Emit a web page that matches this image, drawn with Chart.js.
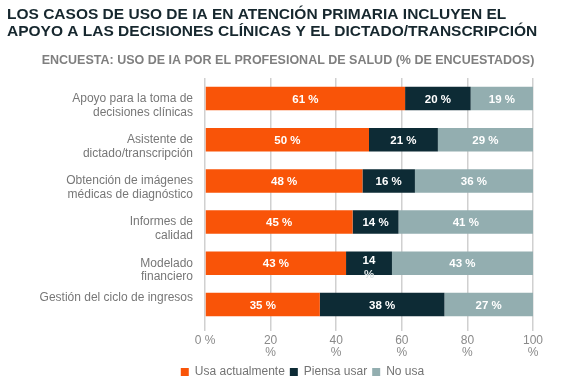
<!DOCTYPE html>
<html><head><meta charset="utf-8">
<script src="https://cdn.jsdelivr.net/npm/chart.js@4/dist/chart.umd.min.js"></script>
<style>html,body{margin:0;padding:0;background:#fff}#wrap{width:567px;height:384px}</style>
</head><body><div id="wrap"><canvas id="c" width="567" height="384"></canvas></div>
<script>
const titleLines = ['LOS CASOS DE USO DE IA EN ATENCIÓN PRIMARIA INCLUYEN EL', 'APOYO A LAS DECISIONES CLÍNICAS Y EL DICTADO/TRANSCRIPCIÓN'];
const subtitle = 'ENCUESTA: USO DE IA POR EL PROFESIONAL DE SALUD (% DE ENCUESTADOS)';
const categories = [
  ['', 'Apoyo para la toma de', 'decisiones clínicas'],
  ['', 'Asistente de', 'dictado/transcripción'],
  ['', 'Obtención de imágenes', 'médicas de diagnóstico'],
  ['', 'Informes de', 'calidad'],
  ['', 'Modelado', 'financiero'],
  ['Gestión del ciclo de ingresos', '']
];
const seriesNames = ['Usa actualmente', 'Piensa usar', 'No usa'];
const usaActualmente = [61, 50, 48, 45, 43, 35];
const piensaUsar = [20, 21, 16, 14, 14, 38];
const noUsa = [19, 29, 36, 41, 43, 27];
const xTicks = [0, 20, 40, 60, 80, 100];

const colors = ['#F95408', '#0D2B35', '#93AEB0'];
const FONT = '"Liberation Sans", Arial, sans-serif';

const headerPlugin = {
  id: 'header',
  beforeDraw(chart) {
    const ctx = chart.ctx;
    ctx.save();
    ctx.fillStyle = '#16272e';
    ctx.font = 'bold 15.5px ' + FONT;
    ctx.textBaseline = 'alphabetic';
    ctx.textAlign = 'left';
    ctx.fillText(titleLines[0], 7, 19);
    ctx.fillText(titleLines[1], 7, 36);
    ctx.fillStyle = '#7f7f7f';
    ctx.font = 'bold 12.5px ' + FONT;
    ctx.textAlign = 'center';
    ctx.fillText(subtitle, 288, 64);
    ctx.restore();
  }
};

const legendShift = {
  id: 'legendShift',
  afterLayout(chart) {
    if (chart.legend) {
      chart.legend.left += 36; chart.legend.right += 36;
      chart.legend.top += 4; chart.legend.bottom += 4;
    }
  }
};

const valueLabels = {
  id: 'valueLabels',
  afterDatasetsDraw(chart) {
    const ctx = chart.ctx;
    ctx.save();
    ctx.font = 'bold 11.5px ' + FONT;
    ctx.fillStyle = '#ffffff';
    ctx.textAlign = 'center';
    ctx.textBaseline = 'middle';
    chart.data.datasets.forEach((ds, di) => {
      const meta = chart.getDatasetMeta(di);
      meta.data.forEach((bar, i) => {
        const v = ds.data[i];
        const cx = (bar.x + bar.base) / 2;
        // the reference wraps this one label onto two lines
        if (di === 1 && i === 4) {
          ctx.fillText(String(v), cx, bar.y - 2);
          ctx.fillStyle = '#dfe6e7';
          ctx.fillText('%', cx, bar.y + 12);
          ctx.fillStyle = '#ffffff';
        } else {
          ctx.fillText(v + ' %', cx, bar.y + 1);
        }
      });
    });
    ctx.restore();
  }
};

new Chart(document.getElementById('c'), {
  type: 'bar',
  data: {
    labels: categories,
    datasets: [
      { label: seriesNames[0], data: usaActualmente, backgroundColor: colors[0] },
      { label: seriesNames[1], data: piensaUsar, backgroundColor: colors[1] },
      { label: seriesNames[2], data: noUsa, backgroundColor: colors[2] }
    ]
  },
  options: {
    indexAxis: 'y',
    responsive: false,
    animation: false,
    devicePixelRatio: 1,
    layout: { padding: { left: 0, right: 34, top: 78, bottom: 0 } },
    datasets: { bar: { barPercentage: 0.57, categoryPercentage: 1 } },
    scales: {
      x: {
        stacked: true, min: 0, max: 100,
        afterBuildTicks(scale) { scale.ticks = xTicks.map(v => ({ value: v })); },
        afterFit(scale) { scale.height = scale.height - 6; },
        ticks: {
          color: '#8a8a8a',
          font: { size: 12, family: FONT, lineHeight: 1.0 },
          padding: 4,
          maxRotation: 0,
          callback: v => v === 0 ? '0 %' : [String(v), '%']
        },
        grid: { color: '#d0d0d0', lineWidth: 1.5, tickLength: 6, drawOnChartArea: true },
        border: { display: false }
      },
      y: {
        stacked: true,
        afterFit(scale) { scale.width = 205; },
        ticks: {
          autoSkip: false,
          color: '#777777',
          font: { size: 12, family: FONT, lineHeight: 1.15 },
          padding: 12
        },
        grid: { display: false, drawTicks: false },
        border: { display: false }
      }
    },
    plugins: {
      legend: {
        position: 'bottom',
        labels: {
          boxWidth: 8, boxHeight: 8, padding: 5,
          color: '#737373',
          font: { size: 12, family: FONT }
        }
      },
      tooltip: { enabled: false },
      title: { display: false }
    }
  },
  plugins: [headerPlugin, valueLabels, legendShift]
});
</script>
</body></html>
